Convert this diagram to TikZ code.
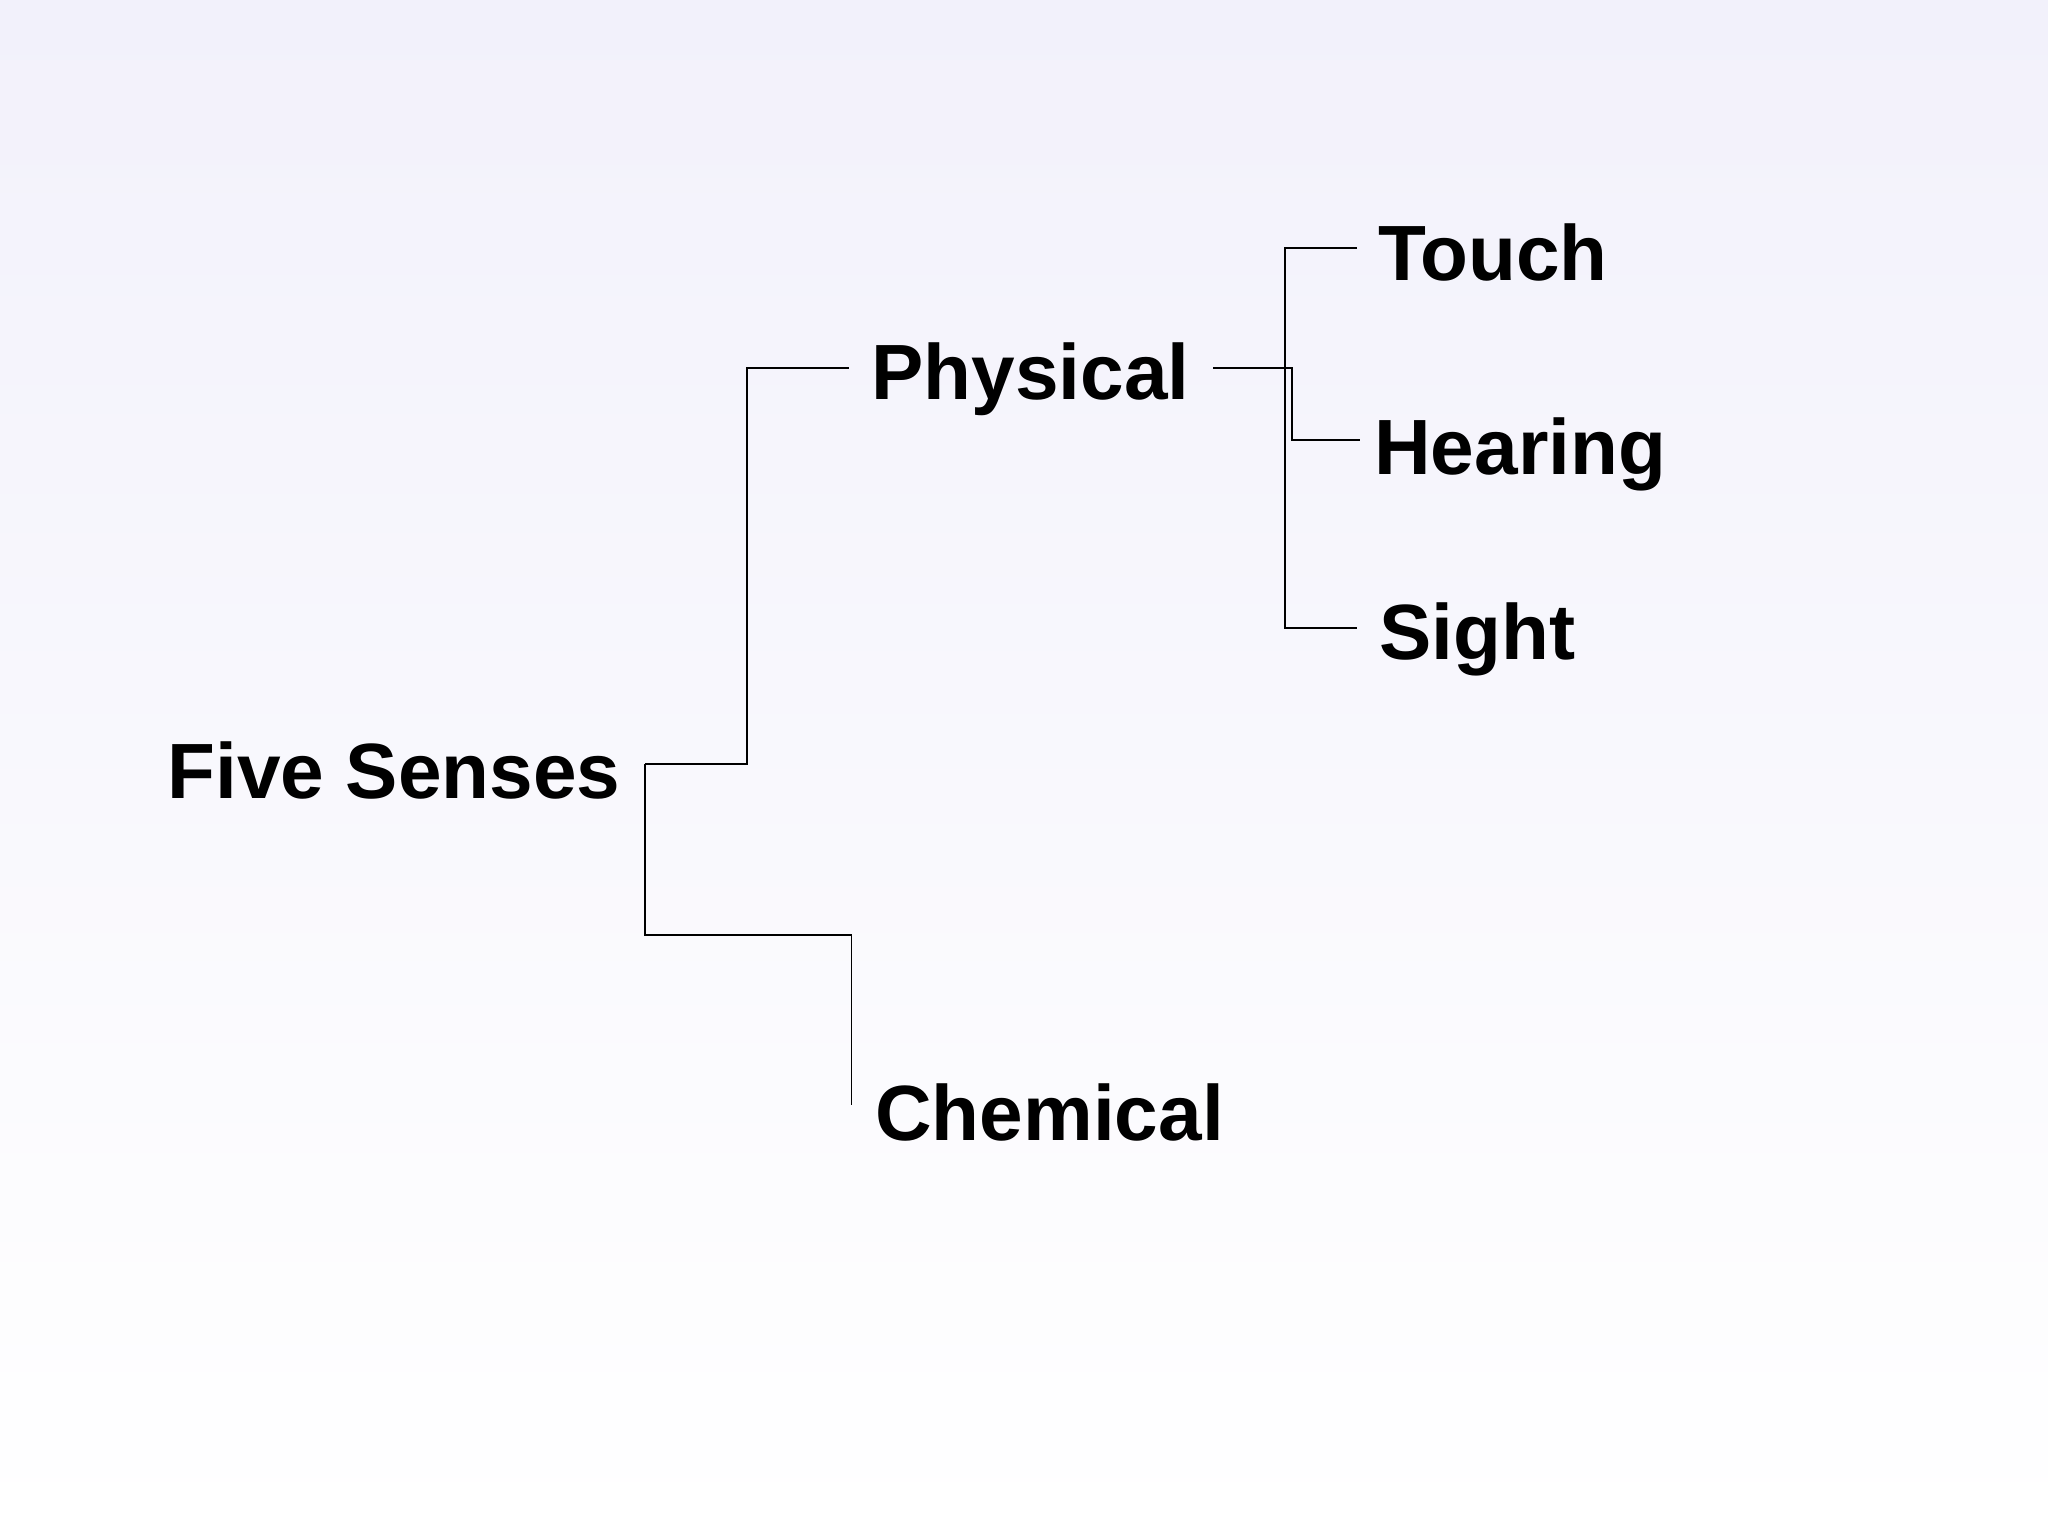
\documentclass[tikz,border=0pt]{standalone}
\usepackage{fontspec}
\setmainfont{Liberation Sans}
\begin{document}
\begin{tikzpicture}[x=1pt,y=-1pt,
  lbl/.style={anchor=base west,inner sep=0pt,font=\fontsize{60}{66}\selectfont\bfseries},
  conn/.style={draw=black,line width=1.3pt}]
\shade[top color={rgb,255:red,242;green,241;blue,251},bottom color=white] (0,0) rectangle (1568,1176);
\useasboundingbox (0,0) rectangle (1568,1176);
\node[lbl] (five) at (128,611) {Five Senses};
\node[lbl] (phys) at (667,306) {Physical};
\node[lbl] (chem) at (670,873) {Chemical};
\node[lbl] (touch) at (1055,215) {Touch};
\node[lbl] (hear) at (1052,363) {Hearing};
\node[lbl] (sight) at (1056,505) {Sight};
\coordinate (f1) at (494,585);
\coordinate (p1) at (650,282);
\coordinate (c1) at (652,846);
\coordinate (q1) at (929,282);
\coordinate (t1) at (1039,190);
\coordinate (h1) at (1041,337);
\coordinate (s1) at (1039,481);
\draw[conn] (f1) -- (572,585) |- (p1);
\draw[conn] (f1) |- (652,716) -- (c1);
\draw[conn] (q1) -- (989,282) |- (h1);
\draw[conn] (t1) -- (984,190) |- (s1);
\end{tikzpicture}
\end{document}
